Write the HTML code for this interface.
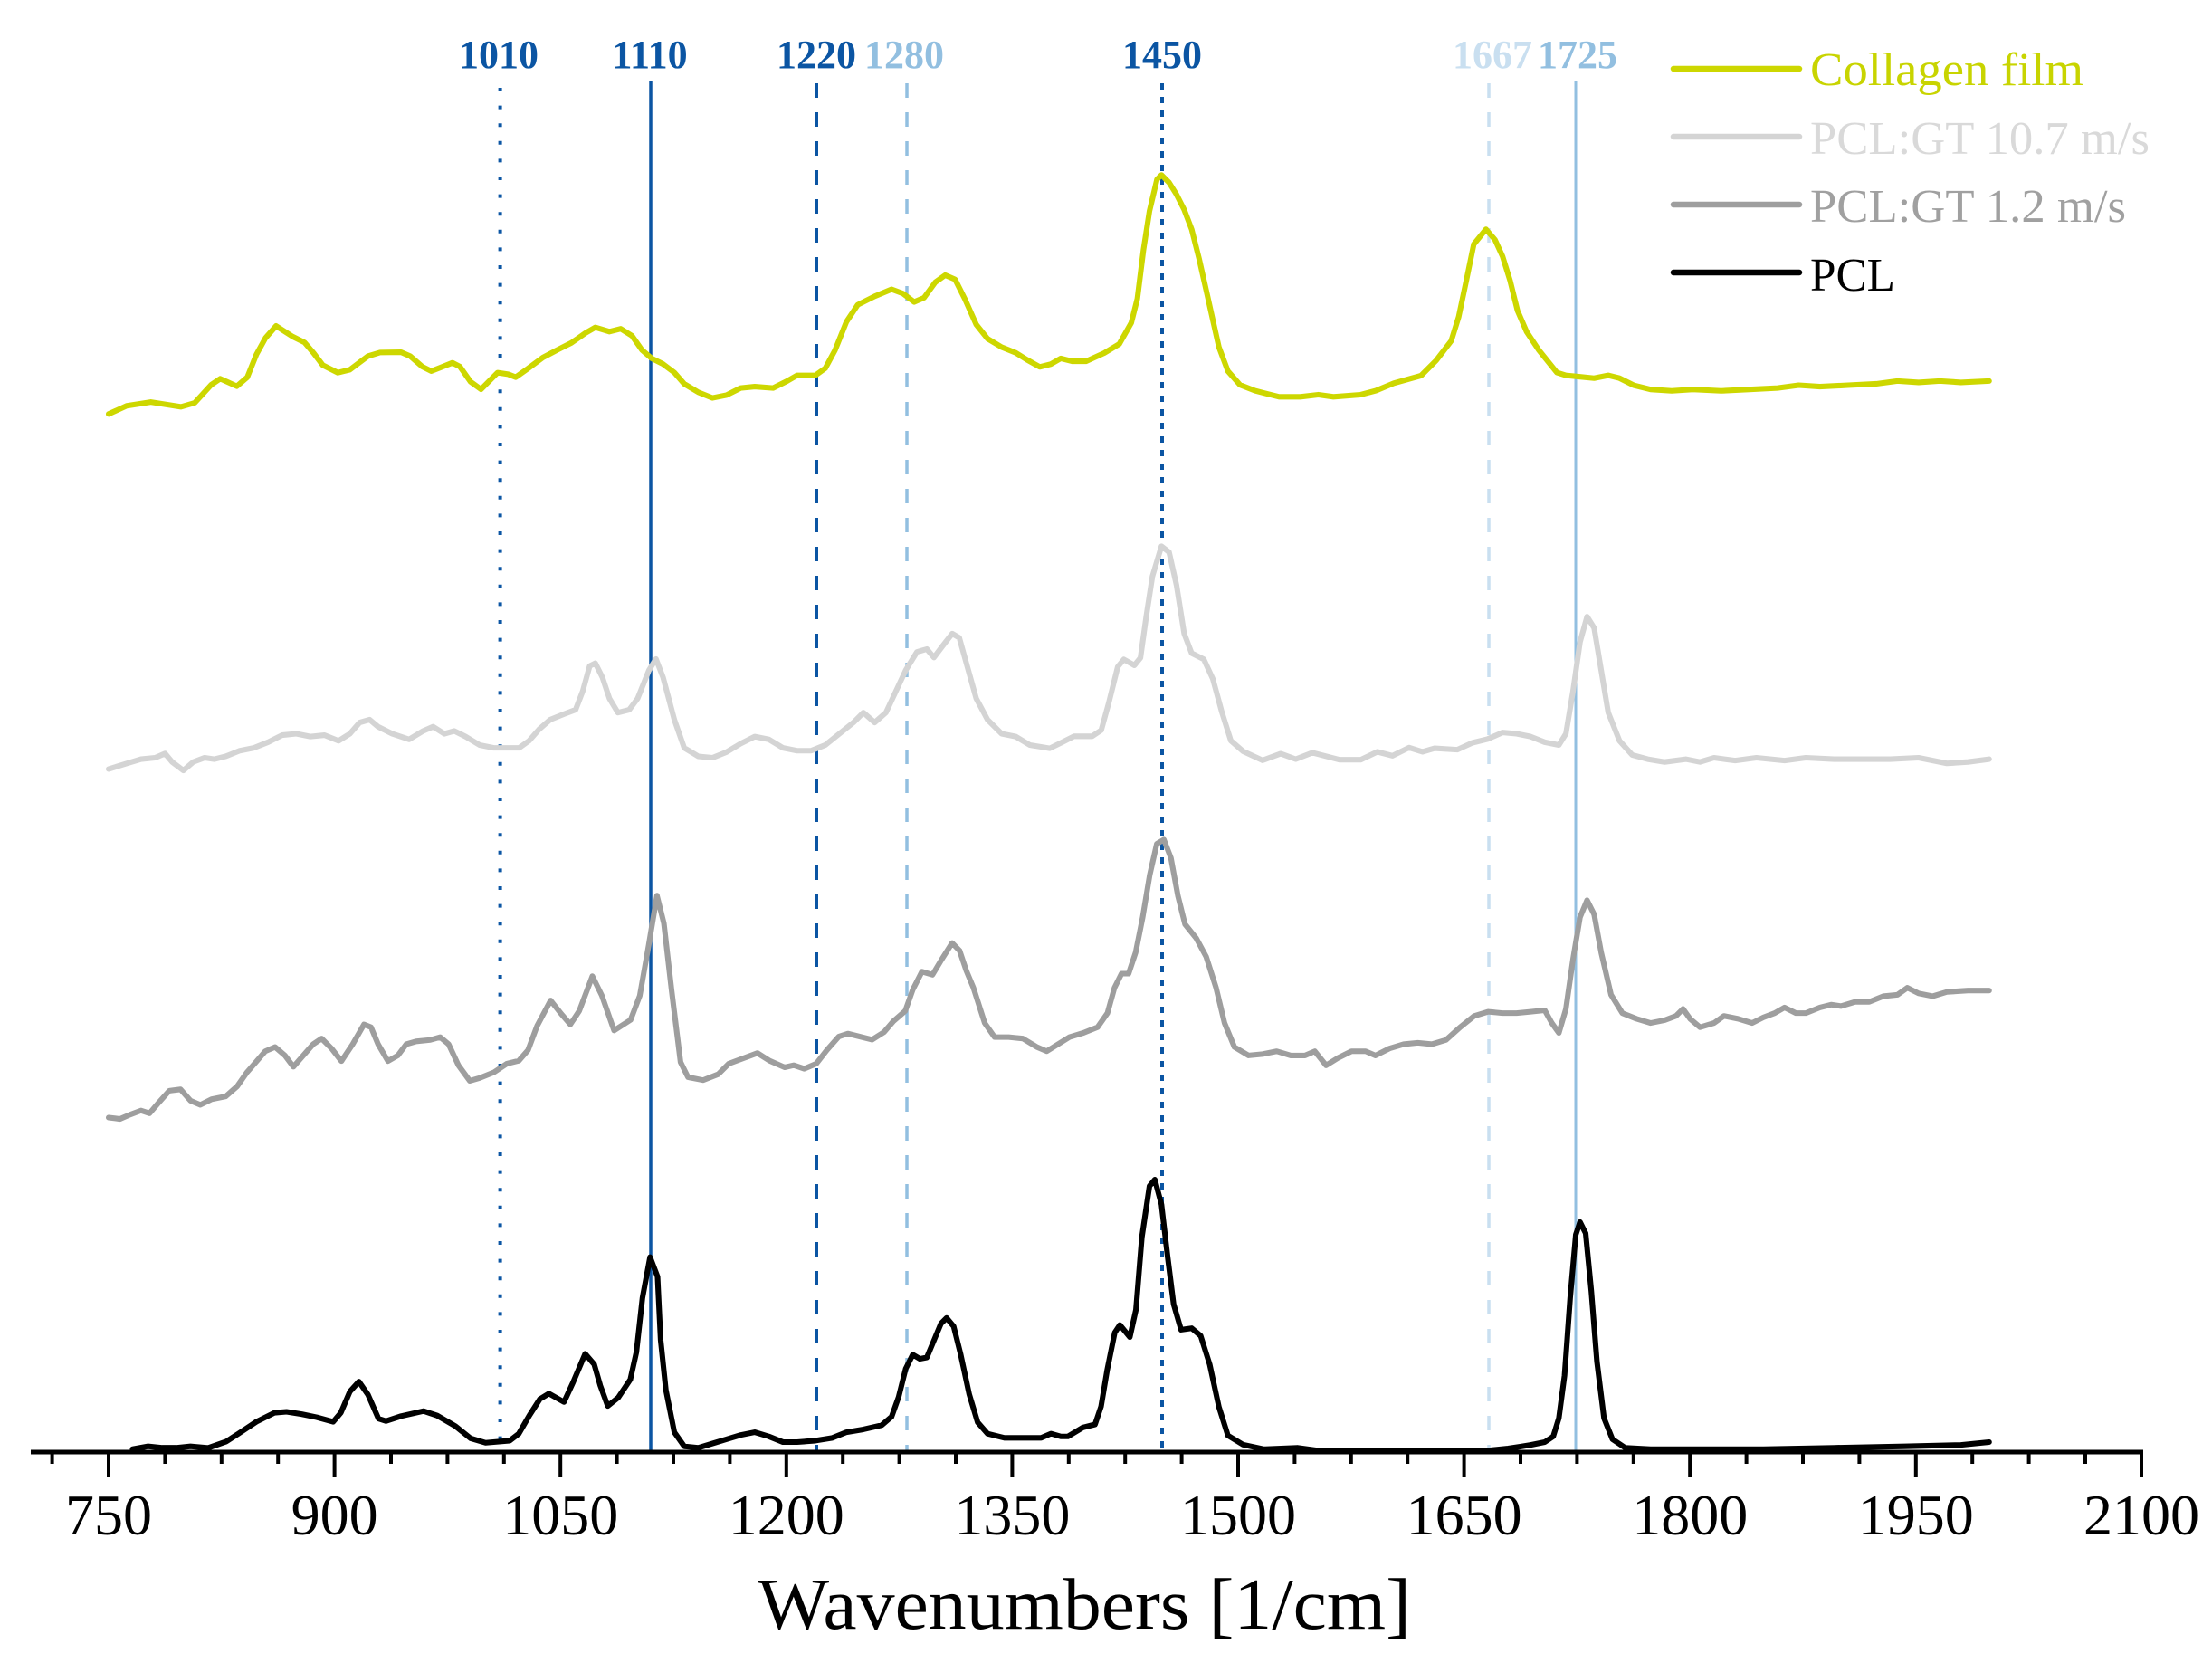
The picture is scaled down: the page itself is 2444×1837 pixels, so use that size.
<!DOCTYPE html>
<html>
<head>
<meta charset="utf-8">
<style>
html,body{margin:0;padding:0;background:#fff;}
svg{display:block;}
</style>
</head>
<body>
<svg xmlns="http://www.w3.org/2000/svg" width="2444" height="1837" viewBox="0 0 2444 1837">
<rect width="2444" height="1837" fill="#fff"/>

<!-- vertical reference lines -->
<g fill="none">
  <line x1="552.6" y1="97" x2="552.6" y2="1602" stroke="#0b55a3" stroke-width="4" stroke-dasharray="4 15.6"/>
  <line x1="719" y1="90" x2="719" y2="1602" stroke="#0b55a3" stroke-width="3.5"/>
  <line x1="902" y1="92" x2="902" y2="1602" stroke="#0b55a3" stroke-width="4" stroke-dasharray="16 16"/>
  <line x1="1002" y1="92" x2="1002" y2="1602" stroke="#92bfe0" stroke-width="3.5" stroke-dasharray="16 16"/>
  <line x1="1284" y1="92" x2="1284" y2="1602" stroke="#0b55a3" stroke-width="4" stroke-dasharray="7 8"/>
  <line x1="1645" y1="92" x2="1645" y2="1602" stroke="#c9dff0" stroke-width="3.5" stroke-dasharray="16 16"/>
  <line x1="1741" y1="90" x2="1741" y2="1602" stroke="#92bfe0" stroke-width="3"/>
</g>

<!-- top labels -->
<g font-family="'Liberation Serif', serif" font-weight="bold" font-size="44" text-anchor="middle">
  <text x="551" y="75" fill="#0b55a3">1010</text>
  <text x="718" y="75" fill="#0b55a3">1110</text>
  <text x="902" y="75" fill="#0b55a3">1220</text>
  <text x="999" y="75" fill="#92bfe0">1280</text>
  <text x="1284" y="75" fill="#0b55a3">1450</text>
  <text x="1649" y="75" fill="#c9dff0">1667</text>
  <text x="1743" y="75" fill="#92bfe0">1725</text>
</g>

<!-- spectra (display coords scaled) -->
<g transform="scale(1.5587)" fill="none" stroke-width="3.9" stroke-linejoin="round" stroke-linecap="round">
  <!-- Collagen film -->
  <polyline stroke="#cdd700" points="77,293.4 89.8,287.6 106.9,284.9 128.3,288.3 138,285.5 149.7,272.7 156.1,268.4 167.9,273.7 175.3,267.3 181.7,251.3 188.2,239.5 195.7,231 207.4,238.5 215.9,242.7 222.3,250.2 228.8,258.8 239.4,264.1 248,262 260.8,252.4 269.4,249.8 284.3,249.6 290.8,252.4 299.3,259.8 305.7,263 312.1,260.5 320.7,257.1 326,259.8 333.5,270.5 341,275.9 352.7,264.1 360.2,265.2 365.6,267.3 374.1,261.3 384.8,253.4 395,248 405,243 415,236 422,232 432,235 440,233 448,238 455,248 462,254 470,258 478,264 485,272 495,278 505,282 515,280 525,275 535,274 548,275 558,270 565,266 578,266 585,261 592,248 600,228 608,216 620,210 632,205 640,208 648,214 655,211 663,200 670,195 677,198 684,212 692,230 700,240 710,246 720,250 728,255 737,260 745,258 752,254 760,256 770,256 782.7,250.2 793.4,243.8 801.9,228.8 806.2,211.7 810.5,177.4 814.8,149.6 820.1,127.2 823.3,124 828.7,129.4 834,137.9 839.4,148.6 844.7,162.5 850.1,183.9 855.4,207.4 859.7,226.7 864,245.9 870.4,263 878.9,272.7 889.6,276.9 906.7,281.2 921.7,281.2 934.5,279.7 945.2,281.2 964.5,279.7 975.2,276.9 988,271.6 1007.3,266.2 1018,255.5 1028.7,241.6 1034,224.5 1039.4,198.8 1044.7,173.1 1053.3,162.5 1059.7,169.9 1065.1,181.7 1070.4,198.8 1075.7,220.2 1082.2,235.2 1090.7,248 1103.6,264 1110,266 1120,267 1130,268 1140,266 1148,268 1158,273 1170,276 1185,277 1200,276 1220,277 1240,276 1260,275 1275,273 1290,274 1310,273 1330,272 1345,270 1360,271 1375,270 1390,271 1410,270"/>

  <!-- PCL:GT 10.7 m/s -->
  <polyline stroke="#d4d4d4" points="77,545 90,541 100,538 110,537 117,534 122,540 130,546 137,540 145,537 152,538 160,536 170,532 180,530 190,526 200,521 210,520 220,522 230,521 240,525 248,520 255,512 262,510 268,515 278,520 290,524 300,518 307,515 315,520 322,518 330,522 340,528 350,530 360,530 368,530 375,525 382,517 390,510 400,506 408,503 413,490 418,472 422,470 427,480 432,495 438,505 446,503 452,495 460,475 465,467 470,480 478,510 485,530 495,536 505,537 515,533 525,527 535,522 545,524 555,530 565,532 575,532 585,528 595,520 605,512 612,505 620,512 628,505 635,490 642,475 650,462 657,460 662,466 668,458 675,449 680,452 685,470 692,495 700,510 710,520 720,522 730,528 744.2,530.3 752.8,526.1 761.3,521.8 774.1,521.8 780.6,517.5 785.9,498.3 792.3,472.6 796.6,467.3 804.1,471.5 808.4,466.2 812.6,436.3 816.9,408.4 823.3,387.1 828.7,391.3 834,414.8 839.4,449 844.7,462.9 853.3,467.2 859.7,481.1 866.1,504.6 872.5,524.9 881.1,532.4 895,538.8 907.8,534.1 918.5,538 930.3,533.4 949.5,538.4 964.5,538.4 976.3,532.8 987,535.6 998.8,529.8 1008.4,532.8 1016.9,530.3 1033,531.3 1043.7,526.4 1054.4,523.8 1065.1,519.1 1075,520 1085,522 1095,526 1105,528 1110,520 1115,490 1120,455 1125,437 1130,445 1135,475 1140,505 1148,525 1157,535 1168,538 1180,540 1195,538 1205,540 1215,537 1230,539 1245,537 1265,539 1280,537 1300,538 1320,538 1340,538 1360,537 1380,541 1395,540 1410,538"/>

  <!-- PCL:GT 1.2 m/s -->
  <polyline stroke="#9e9e9e" points="77,792 85,793 92,790 100,787 106,789 112,782 120,773 128,772 135,780 142,783 150,779 160,777 168,770 175,760 182,752 188,745 195,742 202,748 208,756 215,748 222,740 228,736 235,743 242,752 250,740 258,726 263,728 268,740 275,752 282,748 288,740 295,738 305,737 312,735 318,740 325,755 333,766 340,764 350,760 359.3,753.8 367.8,751.7 374.3,744.2 380.7,727.1 390.3,709 397.8,718.5 404.3,726 410.6,716.4 419.9,691.8 426.7,705.7 435.3,730.3 447,722.8 453.5,705.7 459.9,669.4 465.7,634.7 470.6,654.4 476,701.4 482.4,752.7 487.7,763.4 498.4,765.5 509.1,761.3 516.6,753.8 536.9,746.3 545.5,751.7 556.2,756.4 562.6,754.9 570.1,757.4 578.6,753.8 586.1,744.2 594.6,734.6 601,732.5 618.2,736.8 626.7,731.4 633.1,723.9 641.7,716.4 647,701.4 653.5,688.6 661,690.8 667.4,680.1 674.9,668.3 680.2,673.7 685,688 690,700 698,725 705,735 715,735 725,736 735,742 742,745 750,740 758,735 768,732 778,728 785,718 790,700 795,690 800,690 805,675 810,650 815,620 820,598 825,595 830,608 835,635 840,655 848,665 855,678 862,700 868,725 875,742 885,748 895,747 905,745 915,748 925,748 932,745 940,755 948,750 958,745 968,745 975,748 985,743 995,740 1005,739 1015,740 1025,737 1035,728 1045,720 1055,717 1065,718 1075,718 1085,717 1095,716 1100,725 1105,732 1110,715 1115,680 1120,650 1125,638 1130,648 1135,675 1142,705 1150,718 1160,722 1170,725 1180,723 1188,720 1193,715 1198,722 1205,728 1215,725 1222,720 1232,722 1242,725 1250,721 1258,718 1265,714 1273,718 1280,718 1290,714 1298,712 1305,713 1315,710 1325,710 1335,706 1345,705 1352,700 1360,704 1370,706 1380,703 1395,702 1410,702"/>

  <!-- PCL -->
  <polyline stroke="#000" points="94,1027 105,1025 115,1026 125,1026 135,1025 147.6,1026.1 160.4,1021.6 168.9,1016.1 181.7,1007.6 194.6,1001.2 203.1,1000.5 213.8,1002.2 224.5,1004.4 236.2,1007.6 241.6,1001.2 248,986.2 254.4,979.1 260.8,988.3 268.3,1005.4 273.6,1007.1 284.3,1003.6 300.3,1000 309.9,1003.2 322.8,1010.7 333.5,1019.3 344.2,1022.5 361.3,1021 367.7,1016.1 375.2,1003.2 382.7,991.5 389.1,987.6 399.8,993.6 406.2,979.7 414.8,959.4 421.2,966.9 425.5,981.9 430.8,996.4 438.3,990.4 446.8,977.6 451.1,958.3 455.4,919.8 460.8,890.9 466.1,904.8 468.3,949.7 472,985 478,1015 485,1025 495,1026 505,1023 515,1020 525,1017 535,1015 545,1018 555,1022 565,1022 578,1021 590,1019 600,1015 612,1013 625,1010 632,1004 637,990 642,970 647,960 652,963 657,962 662,950 667,938 671,934 676,940 681,960 687,988 693,1008 700,1016 712,1019 725,1019 738,1019 745,1016 752,1018 757,1018 767.7,1011.6 776.2,1009.5 780.5,996.7 784.8,971 790.2,944.4 793.8,939 800.9,947.6 805.2,928.3 809.4,877 814.8,840.6 818.6,836 823.3,853.6 827.6,890 831.9,924.2 837.2,942.4 844.7,941.3 851.1,946.7 857.5,967 864,997 870.4,1017.3 881.1,1023.8 896,1027 919.6,1026 934.5,1028 1054,1028 1069,1026.5 1077.6,1025.2 1085,1024 1095,1022 1101,1018 1105,1005 1109,975 1113,920 1117,875 1120,866 1124,874 1128,915 1132,965 1137,1005 1143,1020 1152,1026 1170,1027 1200,1027 1250,1027 1300,1026 1350,1025 1390,1024 1410,1022"/>
</g>

<!-- x axis -->
<line x1="34" y1="1604" x2="2368" y2="1604" stroke="#000" stroke-width="5"/>
<g stroke="#000" stroke-width="4">
  <!-- major ticks -->
  <line x1="120" y1="1604" x2="120" y2="1631"/>
  <line x1="369.6" y1="1604" x2="369.6" y2="1631"/>
  <line x1="619.2" y1="1604" x2="619.2" y2="1631"/>
  <line x1="868.8" y1="1604" x2="868.8" y2="1631"/>
  <line x1="1118.4" y1="1604" x2="1118.4" y2="1631"/>
  <line x1="1368" y1="1604" x2="1368" y2="1631"/>
  <line x1="1617.6" y1="1604" x2="1617.6" y2="1631"/>
  <line x1="1867.2" y1="1604" x2="1867.2" y2="1631"/>
  <line x1="2116.8" y1="1604" x2="2116.8" y2="1631"/>
  <line x1="2366" y1="1604" x2="2366" y2="1631"/>
  <!-- minor ticks -->
  <line x1="57.6" y1="1604" x2="57.6" y2="1617"/>
  <line x1="182.4" y1="1604" x2="182.4" y2="1617"/>
  <line x1="244.8" y1="1604" x2="244.8" y2="1617"/>
  <line x1="307.2" y1="1604" x2="307.2" y2="1617"/>
  <line x1="432" y1="1604" x2="432" y2="1617"/>
  <line x1="494.4" y1="1604" x2="494.4" y2="1617"/>
  <line x1="556.8" y1="1604" x2="556.8" y2="1617"/>
  <line x1="681.6" y1="1604" x2="681.6" y2="1617"/>
  <line x1="744" y1="1604" x2="744" y2="1617"/>
  <line x1="806.4" y1="1604" x2="806.4" y2="1617"/>
  <line x1="931.2" y1="1604" x2="931.2" y2="1617"/>
  <line x1="993.6" y1="1604" x2="993.6" y2="1617"/>
  <line x1="1056" y1="1604" x2="1056" y2="1617"/>
  <line x1="1180.8" y1="1604" x2="1180.8" y2="1617"/>
  <line x1="1243.2" y1="1604" x2="1243.2" y2="1617"/>
  <line x1="1305.6" y1="1604" x2="1305.6" y2="1617"/>
  <line x1="1430.4" y1="1604" x2="1430.4" y2="1617"/>
  <line x1="1492.8" y1="1604" x2="1492.8" y2="1617"/>
  <line x1="1555.2" y1="1604" x2="1555.2" y2="1617"/>
  <line x1="1680" y1="1604" x2="1680" y2="1617"/>
  <line x1="1742.4" y1="1604" x2="1742.4" y2="1617"/>
  <line x1="1804.8" y1="1604" x2="1804.8" y2="1617"/>
  <line x1="1929.6" y1="1604" x2="1929.6" y2="1617"/>
  <line x1="1992" y1="1604" x2="1992" y2="1617"/>
  <line x1="2054.4" y1="1604" x2="2054.4" y2="1617"/>
  <line x1="2179.2" y1="1604" x2="2179.2" y2="1617"/>
  <line x1="2241.6" y1="1604" x2="2241.6" y2="1617"/>
  <line x1="2304" y1="1604" x2="2304" y2="1617"/>
</g>

<!-- tick labels -->
<g font-family="'Liberation Serif', serif" font-size="64" text-anchor="middle" fill="#000">
  <text x="120" y="1695">750</text>
  <text x="369.6" y="1695">900</text>
  <text x="619.2" y="1695">1050</text>
  <text x="868.8" y="1695">1200</text>
  <text x="1118.4" y="1695">1350</text>
  <text x="1368" y="1695">1500</text>
  <text x="1617.6" y="1695">1650</text>
  <text x="1867.2" y="1695">1800</text>
  <text x="2116.8" y="1695">1950</text>
  <text x="2366" y="1695">2100</text>
</g>

<!-- axis title -->
<text x="837" y="1799" font-family="'Liberation Serif', serif" font-size="80" fill="#000" textLength="722" lengthAdjust="spacingAndGlyphs">Wavenumbers [1/cm]</text>

<!-- legend -->
<g stroke-width="6.5" stroke-linecap="round">
  <line x1="1849" y1="76" x2="1988" y2="76" stroke="#cdd700"/>
  <line x1="1849" y1="151" x2="1988" y2="151" stroke="#d4d4d4"/>
  <line x1="1849" y1="226" x2="1988" y2="226" stroke="#9e9e9e"/>
  <line x1="1849" y1="301" x2="1988" y2="301" stroke="#000"/>
</g>
<g font-family="'Liberation Serif', serif" font-size="52">
  <text x="2000" y="94" fill="#c8d400" textLength="302" lengthAdjust="spacingAndGlyphs">Collagen film</text>
  <text x="2000" y="170" fill="#d9d9d9" textLength="375" lengthAdjust="spacingAndGlyphs">PCL:GT 10.7 m/s</text>
  <text x="2000" y="245" fill="#a0a0a0" textLength="349" lengthAdjust="spacingAndGlyphs">PCL:GT 1.2 m/s</text>
  <text x="2000" y="321" fill="#000" textLength="94" lengthAdjust="spacingAndGlyphs">PCL</text>
</g>
</svg>
</body>
</html>
